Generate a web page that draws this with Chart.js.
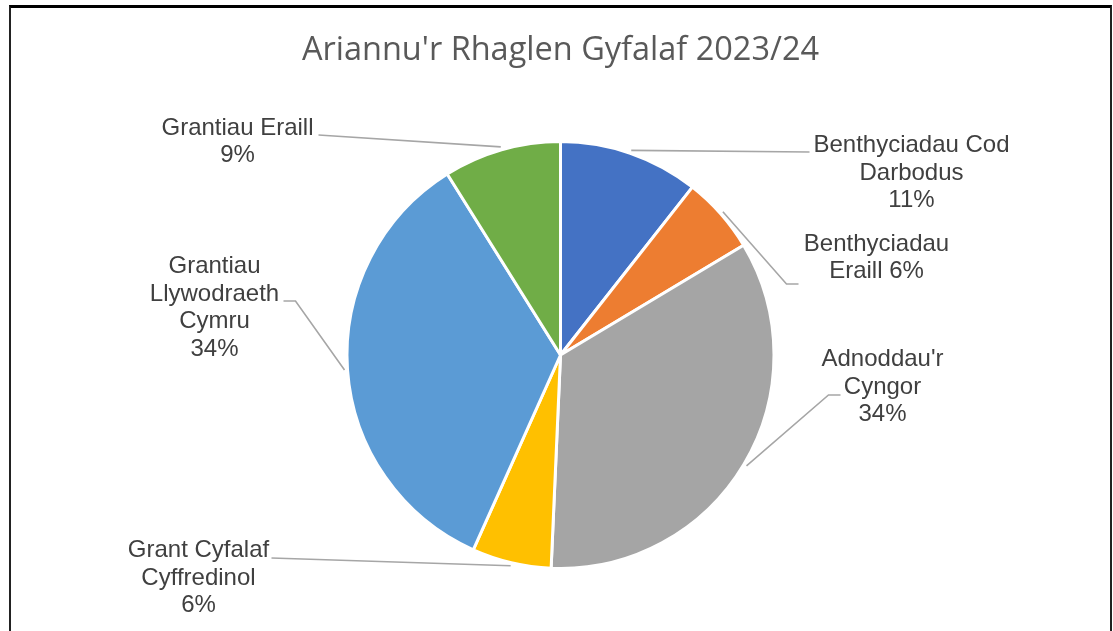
<!DOCTYPE html>
<html>
<head>
<meta charset="utf-8">
<script src="https://cdn.jsdelivr.net/npm/chart.js@4/dist/chart.umd.min.js"></script>
<style>
  html, body { margin: 0; padding: 0; background: #fff; }
  #frame {
    position: absolute; left: 9px; top: 5px; width: 1099px; height: 640px;
    border-top: 3px solid #000; border-left: 2px solid #222; border-right: 2px solid #222;
  }
  #myChart { position: absolute; left: 0; top: 0; }
</style>
</head>
<body>
<div id="frame"></div>
<canvas id="myChart" width="1113" height="631"></canvas>
<script>
const categories = [
  "Benthyciadau Cod Darbodus",
  "Benthyciadau Eraill",
  "Adnoddau'r Cyngor",
  "Grant Cyfalaf Cyffredinol",
  "Grantiau Llywodraeth Cymru",
  "Grantiau Eraill"
];
const shares = [10.6, 5.8, 34.3, 6.0, 34.4, 8.9];
const colours = ["#4472C4", "#ED7D31", "#A5A5A5", "#FFC000", "#5B9BD5", "#70AD47"];

// where each data label sits (relative to pie centre) and how its words wrap
const labelPlacement = [
  { dx: 351, dy: -182, words: [2, 1, 1], path: [[249, -203]] },
  { dx: 316, dy: -97, words: [1, 2], path: [[226, -71], [238, -71]] },
  { dx: 322, dy: 32, words: [1, 1, 1], path: [[268, 40], [280, 40]] },
  { dx: -362, dy: 223, words: [2, 1, 1], path: [[-289, 203]] },
  { dx: -346, dy: -47, words: [1, 1, 1, 1], path: [[-265, -54], [-277, -54]] },
  { dx: -323, dy: -213, words: [2, 1], path: [[-242, -220]] }
];

const outsideLabels = {
  id: "outsideLabels",
  afterDatasetsDraw(chart) {
    const ctx = chart.ctx;
    const meta = chart.getDatasetMeta(0);
    const data = chart.data.datasets[0].data;
    const total = data.reduce((a, b) => a + b, 0);
    ctx.save();
    meta.data.forEach((arc, i) => {
      const p = arc.getProps(["x", "y", "startAngle", "endAngle", "outerRadius"], true);
      const mid = (p.startAngle + p.endAngle) / 2;
      const place = labelPlacement[i];
      // leader line
      ctx.strokeStyle = "#A6A6A6";
      ctx.lineWidth = 1.6;
      ctx.beginPath();
      ctx.moveTo(p.x + Math.cos(mid) * (p.outerRadius + 3), p.y + Math.sin(mid) * (p.outerRadius + 3));
      place.path.forEach(([px, py]) => ctx.lineTo(p.x + px, p.y + py));
      ctx.stroke();
      // text
      const pct = Math.round((data[i] / total) * 100) + "%";
      const tokens = chart.data.labels[i].split(" ").concat(pct);
      const lines = [];
      let k = 0;
      place.words.forEach((n) => {
        lines.push(tokens.slice(k, k + n).join(" "));
        k += n;
      });
      ctx.fillStyle = "#404040";
      ctx.font = "24px 'Liberation Sans', Arial, sans-serif";
      ctx.textAlign = "center";
      ctx.textBaseline = "middle";
      const lh = 27.5;
      const top = p.y + place.dy - ((lines.length - 1) * lh) / 2;
      lines.forEach((line, j) => ctx.fillText(line, p.x + place.dx, top + j * lh));
    });
    ctx.restore();
  }
};

const ctx = document.getElementById("myChart");
const myChart = new Chart(ctx, {
  type: "pie",
  data: {
    labels: categories,
    datasets: [
      {
        data: shares,
        backgroundColor: colours,
        borderColor: "#ffffff",
        borderWidth: 3,
        hoverOffset: 0,
        radius: 213.5
      }
    ]
  },
  options: {
    responsive: false,
    animation: false,
    layout: {
      padding: { left: 8, right: 0, top: 0, bottom: 0 }
    },
    plugins: {
      legend: { display: false },
      tooltip: { enabled: false },
      title: {
        display: true,
        text: "Ariannu'r Rhaglen Gyfalaf 2023/24",
        color: "#595959",
        font: { family: "'Open Sans', sans-serif", size: 32.5, weight: "normal" },
        padding: { top: 31, bottom: 9 }
      }
    }
  },
  plugins: [outsideLabels]
});
</script>
</body>
</html>
